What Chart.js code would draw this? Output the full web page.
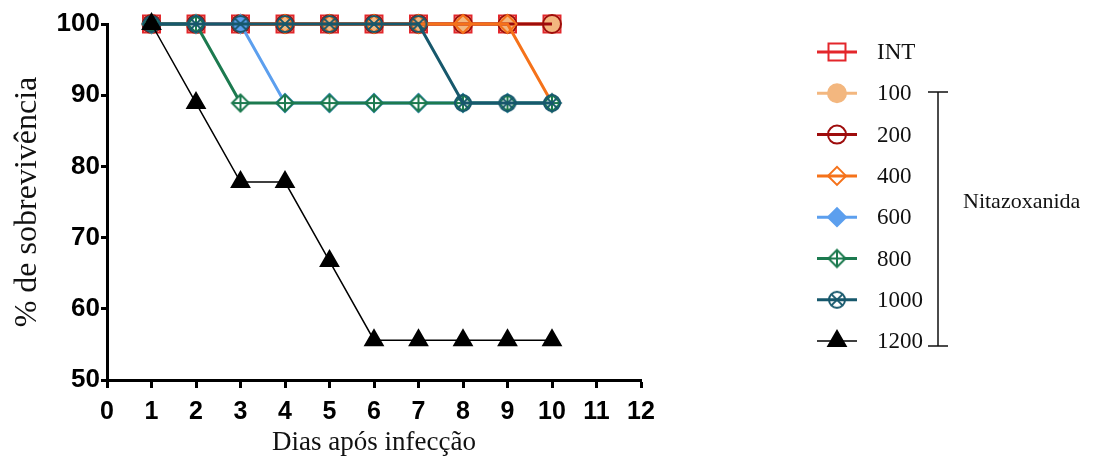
<!DOCTYPE html>
<html lang="pt">
<head>
  <meta charset="UTF-8" />
  <title>Sobrevivência - Nitazoxanida</title>
  <script src="https://cdn.jsdelivr.net/npm/chart.js"></script>
  <style>
    body { margin: 0; padding: 0; background: #fff; }
    #wrap { width: 1097px; height: 461px; }
  </style>
</head>
<body>
  <div id="wrap"><canvas id="survChart" width="1097" height="461"></canvas></div>

  <script>
    // dias após infecção
    const days = [1, 2, 3, 4, 5, 6, 7, 8, 9, 10];
    const xTicks = [0, 1, 2, 3, 4, 5, 6, 7, 8, 9, 10, 11, 12];
    const yTicks = [50, 60, 70, 80, 90, 100];

    const seriesNames = ['INT', '100', '200', '400', '600', '800', '1000', '1200'];
    const serINT  = [100, 100, 100, 100, 100, 100, 100, 100, 100, 100];
    const ser100  = [100, 100, 100, 100, 100, 100, 100, 100, 100, 100];
    const ser200  = [100, 100, 100, 100, 100, 100, 100, 100, 100, 100];
    const ser400  = [100, 100, 100, 100, 100, 100, 100, 100, 100, 88.9];
    const ser600  = [100, 100, 100, 88.9, 88.9, 88.9, 88.9, 88.9, 88.9, 88.9];
    const ser800  = [100, 100, 88.9, 88.9, 88.9, 88.9, 88.9, 88.9, 88.9, 88.9];
    const ser1000 = [100, 100, 100, 100, 100, 100, 100, 88.9, 88.9, 88.9];
    const ser1200 = [100, 88.9, 77.8, 77.8, 66.7, 55.6, 55.6, 55.6, 55.6, 55.6];
    const groupLabel = 'Nitazoxanida';

    // marcadores compostos (losango com cruz, círculo com X)
    function makeMarker(kind, color) {
      const s = 22, c = s / 2;
      const cv = document.createElement('canvas');
      cv.width = s; cv.height = s;
      const g = cv.getContext('2d');
      g.strokeStyle = color;
      g.lineWidth = 2;
      if (kind === 'diamondPlus') {
        const r = 8.5;
        g.beginPath();
        g.moveTo(c, c - r); g.lineTo(c + r, c); g.lineTo(c, c + r); g.lineTo(c - r, c); g.closePath();
        g.fillStyle = '#fff';
        g.fill();
        g.stroke();
        g.beginPath();
        g.moveTo(c, c - r); g.lineTo(c, c + r);
        g.moveTo(c - r, c); g.lineTo(c + r, c);
        g.stroke();
      } else {
        const r = 8;
        g.beginPath();
        g.arc(c, c, r, 0, Math.PI * 2);
        g.stroke();
        const d = r * 0.7071;
        g.beginPath();
        g.moveTo(c - d, c - d); g.lineTo(c + d, c + d);
        g.moveTo(c + d, c - d); g.lineTo(c - d, c + d);
        g.stroke();
      }
      return cv;
    }

    const styles = [
      { color: '#e3262b', fill: 'rgba(0,0,0,0)', style: 'rect', radius: 12, lw: 3 },
      { color: '#f3b77f', fill: '#f3b77f', style: 'circle', radius: 9, lw: 3 },
      { color: '#9e0c0c', fill: 'rgba(0,0,0,0)', style: 'circle', radius: 9, lw: 3 },
      { color: '#f5721a', fill: 'rgba(0,0,0,0)', style: 'rectRot', radius: 9, lw: 3 },
      { color: '#5c9fee', fill: '#5c9fee', style: 'rectRot', radius: 9, lw: 3 },
      { color: '#1c7a4f', fill: 'rgba(0,0,0,0)', style: makeMarker('diamondPlus', '#1c7a4f'), radius: 9, lw: 3 },
      { color: '#17586c', fill: 'rgba(0,0,0,0)', style: makeMarker('circleX', '#17586c'), radius: 9, lw: 3 },
      { color: '#000000', fill: '#000000', style: 'triangle', radius: 10, lw: 1.5 }
    ];

    const allSeries = [serINT, ser100, ser200, ser400, ser600, ser800, ser1000, ser1200];

    const datasets = allSeries.map((vals, i) => ({
      label: seriesNames[i],
      data: days.map((d, k) => ({ x: d, y: vals[k] })),
      borderColor: styles[i].color,
      backgroundColor: styles[i].fill,
      borderWidth: styles[i].lw,
      pointStyle: styles[i].style,
      pointRadius: styles[i].radius,
      pointBorderColor: styles[i].color,
      pointBackgroundColor: styles[i].fill,
      pointBorderWidth: 2,
      tension: 0,
      fill: false,
      clip: false,
      order: allSeries.length - i   // séries seguintes por cima
    }));

    // legenda própria, com o colchete "Nitazoxanida"
    const sideLegend = {
      id: 'sideLegend',
      afterDraw(chart) {
        const ctx = chart.ctx;
        const x0 = 817, x1 = 857, xm = 837, xt = 877;
        const y0 = 52, step = 41.3;
        ctx.save();
        chart.data.datasets.forEach((ds, i) => {
          const y = y0 + i * step;
          ctx.beginPath();
          ctx.strokeStyle = ds.borderColor;
          ctx.lineWidth = ds.borderWidth;
          ctx.moveTo(x0, y); ctx.lineTo(x1, y);
          ctx.stroke();
          ctx.fillStyle = ds.pointBackgroundColor;
          ctx.strokeStyle = ds.pointBorderColor;
          ctx.lineWidth = 2;
          Chart.helpers.drawPoint(ctx, {
            pointStyle: ds.pointStyle, radius: ds.pointRadius, borderWidth: 2, rotation: 0
          }, xm, y);
          ctx.fillStyle = '#111';
          ctx.font = '23px "Liberation Serif", "Times New Roman", serif';
          ctx.textAlign = 'left';
          ctx.textBaseline = 'middle';
          ctx.fillText(ds.label, xt, y + 1);
        });
        // colchete
        const bx = 938, by0 = 92, by1 = 346;
        ctx.strokeStyle = '#111';
        ctx.lineWidth = 1.5;
        ctx.beginPath();
        ctx.moveTo(928, by0); ctx.lineTo(948, by0);
        ctx.moveTo(bx, by0); ctx.lineTo(bx, by1);
        ctx.moveTo(928, by1); ctx.lineTo(948, by1);
        ctx.stroke();
        ctx.fillStyle = '#111';
        ctx.font = '22px "Liberation Serif", "Times New Roman", serif';
        ctx.textAlign = 'left';
        ctx.textBaseline = 'middle';
        ctx.fillText(groupLabel, 963, 202);
        ctx.restore();
      }
    };

    const tickFont = { family: '"Liberation Sans", Arial, sans-serif', weight: 'bold', size: 25 };
    const titleFontFamily = '"Liberation Serif", "Times New Roman", serif';

    new Chart(document.getElementById('survChart'), {
      type: 'line',
      data: { datasets },
      options: {
        responsive: false,
        animation: false,
        devicePixelRatio: 1,
        layout: { padding: { left: 0, top: 24, right: 456, bottom: 0 } },
        plugins: { legend: { display: false }, tooltip: { enabled: false } },
        scales: {
          x: {
            type: 'linear',
            min: 0, max: 12,
            afterBuildTicks: s => { s.ticks = xTicks.map(v => ({ value: v })); },
            afterFit: s => { s.height = 81; },
            ticks: { color: '#000', font: tickFont, padding: 9, maxRotation: 0, autoSkip: false },
            grid: { display: true, drawOnChartArea: false, drawTicks: true, tickLength: 8, tickColor: '#000', tickWidth: 3 },
            border: { display: true, color: '#000', width: 3 },
            title: { display: true, text: 'Dias após infecção', color: '#111',
                     font: { family: titleFontFamily, size: 27 }, padding: { top: 0, bottom: 2 } }
          },
          y: {
            min: 50, max: 100,
            afterBuildTicks: s => { s.ticks = yTicks.map(v => ({ value: v })); },
            afterFit: s => { s.width = 107; },
            ticks: { color: '#000', font: { ...tickFont, size: 26 }, padding: 1 },
            grid: { display: true, drawOnChartArea: false, drawTicks: true, tickLength: 6, tickColor: '#000', tickWidth: 3 },
            border: { display: true, color: '#000', width: 3 },
            title: { display: true, text: '% de sobrevivência', color: '#111',
                     font: { family: titleFontFamily, size: 32 }, padding: { top: 8, bottom: 0 } }
          }
        }
      },
      plugins: [sideLegend]
    });
  </script>
</body>
</html>
